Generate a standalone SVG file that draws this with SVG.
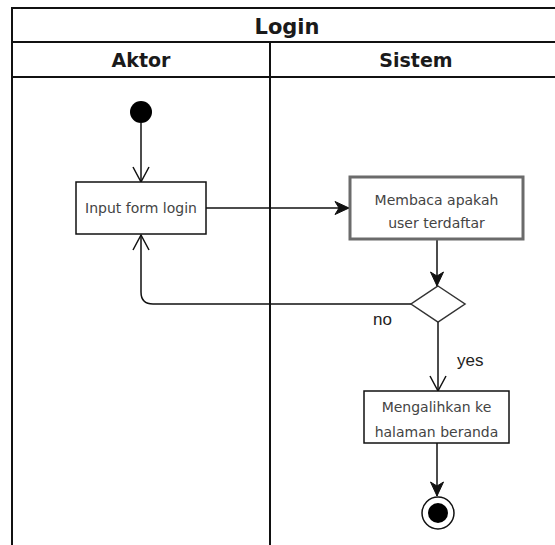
<svg xmlns="http://www.w3.org/2000/svg" width="555" height="545" viewBox="0 0 555 545">
<style>
.frame{fill:none;stroke:#111;stroke-width:2}
.hdr{font-family:"DejaVu Sans",Verdana,sans-serif;font-weight:bold;fill:#1a1a1a;text-anchor:middle}
.box{fill:#fff;stroke:#111;stroke-width:1.5}
.box2{fill:#fff;stroke:#6b6b6b;stroke-width:3}
.txt{font-family:"DejaVu Sans",Verdana,sans-serif;font-size:14px;fill:#444;text-anchor:middle}
.lbl{font-family:"Liberation Sans",Arial,sans-serif;font-size:17px;fill:#222}
.edge{fill:none;stroke:#111;stroke-width:1.5}
</style>
<defs>
<marker id="open" markerUnits="userSpaceOnUse" markerWidth="18" markerHeight="20" refX="15" refY="8" orient="auto" overflow="visible">
<path d="M0,0 L15,8 L0,16" fill="none" stroke="#111" stroke-width="1.5"/>
</marker>
<marker id="block" markerUnits="userSpaceOnUse" markerWidth="16" markerHeight="16" refX="14" refY="6.5" orient="auto" overflow="visible">
<path d="M0,0 L14,6.5 L0,13 L4,6.5 Z" fill="#111" stroke="#111" stroke-width="1"/>
</marker>
</defs>
<g id="pool">
<rect class="frame" x="12" y="8" width="550" height="560"/>
<line class="frame" x1="12" y1="42" x2="562" y2="42"/>
<line class="frame" x1="12" y1="77" x2="562" y2="77"/>
<line class="frame" x1="270" y1="42" x2="270" y2="560"/>
<text class="hdr" x="287" y="34" font-size="21">Login</text>
<text class="hdr" x="141" y="67" font-size="19">Aktor</text>
<text class="hdr" x="416" y="67" font-size="19">Sistem</text>
</g>
<g id="connectors">
<line class="edge" x1="141" y1="123" x2="141" y2="182" marker-end="url(#open)"/>
<line class="edge" x1="206" y1="208" x2="349" y2="208" marker-end="url(#block)"/>
<line class="edge" x1="437" y1="239" x2="437" y2="286" marker-end="url(#block)"/>
<path class="edge" d="M411,304 L153,304 Q141,304 141,292 L141,235" marker-end="url(#open)"/>
<line class="edge" x1="438" y1="322" x2="438" y2="391" marker-end="url(#open)"/>
<line class="edge" x1="437" y1="443" x2="437" y2="496" marker-end="url(#block)"/>
<text class="lbl" x="373" y="325">no</text>
<text class="lbl" x="457" y="366">yes</text>
</g>
<g id="start">
<circle cx="141" cy="112" r="11" fill="#000"/>
</g>
<g id="input-form">
<rect class="box" x="76" y="182" width="130" height="52"/>
<text class="txt" x="141" y="213">Input form login</text>
</g>
<g id="membaca">
<rect class="box2" x="350" y="177" width="173" height="62"/>
<text class="txt" x="436.5" y="205">Membaca apakah</text>
<text class="txt" x="436.5" y="228">user terdaftar</text>
</g>
<g id="decision">
<polygon points="438,286 465,304 438,322 411,304" fill="#fff" stroke="#333" stroke-width="1.5"/>
</g>
<g id="mengalihkan">
<rect class="box" x="364" y="391" width="145" height="52"/>
<text class="txt" x="436.5" y="412">Mengalihkan ke</text>
<text class="txt" x="436.5" y="437">halaman beranda</text>
</g>
<g id="end">
<circle cx="438" cy="513" r="16" fill="#fff" stroke="#111" stroke-width="1.5"/>
<circle cx="438" cy="513" r="10" fill="#000"/>
</g>
</svg>
